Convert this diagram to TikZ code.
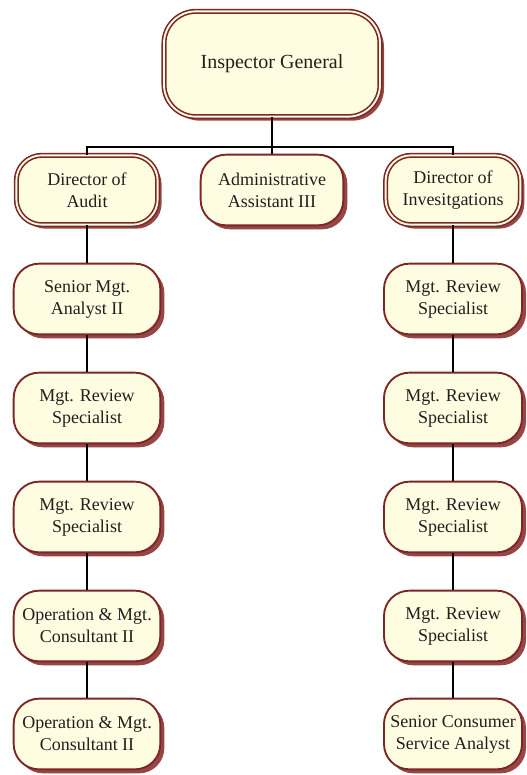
\documentclass[tikz,border=0pt]{standalone}
\usepackage{fontspec}
\setmainfont{Liberation Serif}
\usetikzlibrary{shadows}
\definecolor{boxfill}{RGB}{255,253,225}
\definecolor{boxline}{RGB}{125,38,38}
\definecolor{shadowred}{RGB}{150,70,70}
\definecolor{txt}{RGB}{35,30,30}
\tikzset{
  orgbox/.style={draw=boxline, line width=1.4pt, fill=boxfill, rounded corners=19pt,
    align=center, inner sep=0pt, text=txt,
    font=\fontsize{13.5}{16.5}\selectfont,
    drop shadow={shadow xshift=3pt, shadow yshift=-3pt, fill=shadowred, opacity=1}},
  dblbox/.style={orgbox, line width=1.2pt, double=boxfill, double distance=1.4pt},
  leftbox/.style={orgbox, minimum width=110pt, minimum height=53pt},
  rightbox/.style={orgbox, minimum width=103.5pt, minimum height=53pt},
  conn/.style={draw=black, line width=1.1pt}
}
\begin{document}
\begin{tikzpicture}[x=0.75pt, y=-0.75pt]
\useasboundingbox (0,0) rectangle (527,775);
% top
\node[dblbox, minimum width=162pt, minimum height=79pt, rounded corners=24pt,
  font=\fontsize{15}{18}\selectfont] (ig) at (272,64) {Inspector General};
% second row
\node[dblbox, minimum width=106pt, minimum height=52pt] (aud) at (87,190) {Director of\\Audit};
\node[orgbox, minimum width=107pt, minimum height=53pt] (adm) at (272,190) {Administrative\\Assistant III};
\node[dblbox, minimum width=101pt, minimum height=52pt] (inv) at (453,190) {Director of\\Invesitgations};
% left column
\node[leftbox] (l1) at (87,299) {Senior Mgt.\\Analyst II};
\node[leftbox] (l2) at (87,408) {Mgt. Review\\Specialist};
\node[leftbox] (l3) at (87,517) {Mgt. Review\\Specialist};
\node[leftbox] (l4) at (87,626) {Operation \& Mgt.\\Consultant II};
\node[leftbox] (l5) at (87,734) {Operation \& Mgt.\\Consultant II};
% right column
\node[rightbox] (r1) at (453,299) {Mgt. Review\\Specialist};
\node[rightbox] (r2) at (453,408) {Mgt. Review\\Specialist};
\node[rightbox] (r3) at (453,517) {Mgt. Review\\Specialist};
\node[rightbox] (r4) at (453,626) {Mgt. Review\\Specialist};
\node[rightbox] (r5) at (453,734) {Senior Consumer\\Service Analyst};
% connectors
\coordinate (bus) at (272,147);
\draw[conn] (ig.south) -- (adm.north);
\draw[conn] (aud.north) -- (aud.north |- bus) -- (inv.north |- bus) -- (inv.north);
\draw[conn] (aud.south) -- (l1.north);
\draw[conn] (l1.south) -- (l2.north);
\draw[conn] (l2.south) -- (l3.north);
\draw[conn] (l3.south) -- (l4.north);
\draw[conn] (l4.south) -- (l5.north);
\draw[conn] (inv.south) -- (r1.north);
\draw[conn] (r1.south) -- (r2.north);
\draw[conn] (r2.south) -- (r3.north);
\draw[conn] (r3.south) -- (r4.north);
\draw[conn] (r4.south) -- (r5.north);
\end{tikzpicture}
\end{document}
